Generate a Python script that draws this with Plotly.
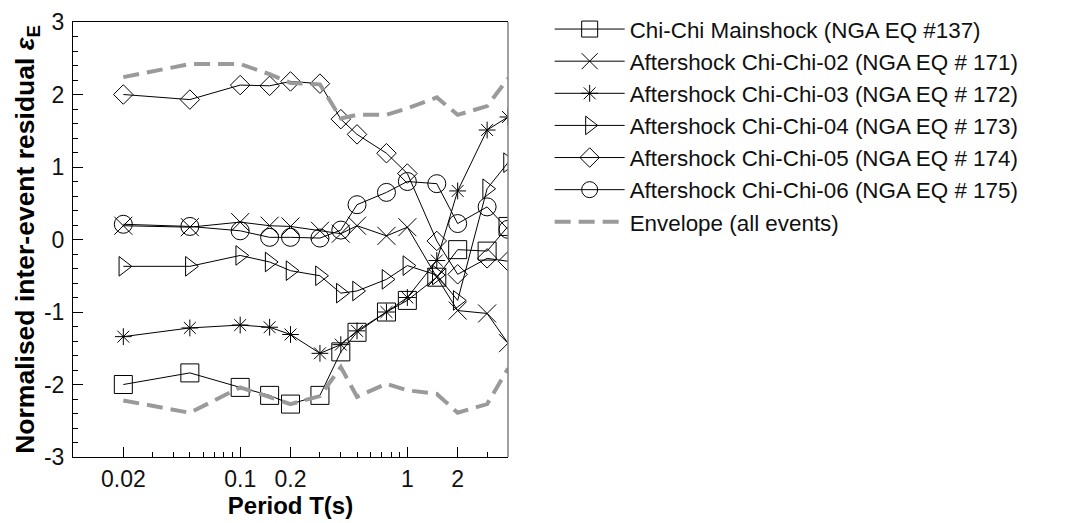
import math
import plotly.graph_objects as go

# ---- data ----
periods = [0.02, 0.05, 0.1, 0.15, 0.2, 0.3, 0.4, 0.5, 0.75, 1.0, 1.5, 2.0, 3.0, 4.0]

mainshock_137 = [-2.00, -1.84, -2.04, -2.15, -2.27, -2.15, -1.55, -1.28, -1.00, -0.84, -0.52, -0.14, -0.16, 0.18]
chichi02_171 = [0.19, 0.17, 0.24, 0.19, 0.18, 0.12, 0.08, 0.19, 0.05, 0.17, -0.52, -0.98, -1.02, -1.43]
chichi03_172 = [-1.34, -1.22, -1.18, -1.21, -1.31, -1.57, -1.45, -1.26, -1.00, -0.80, -0.29, 0.67, 1.51, 1.69]
chichi04_173 = [-0.37, -0.37, -0.22, -0.31, -0.43, -0.50, -0.74, -0.71, -0.55, -0.36, -0.49, -0.84, 0.70, 1.06]
chichi05_174 = [2.00, 1.93, 2.13, 2.12, 2.18, 2.15, 1.66, 1.45, 1.19, 0.91, -0.02, -0.48, -0.26, -0.30]
chichi06_175 = [0.21, 0.18, 0.12, 0.03, 0.03, 0.02, 0.13, 0.48, 0.65, 0.80, 0.77, 0.22, 0.45, 0.14]

envelope_upper = [2.24, 2.42, 2.42, 2.28, 2.16, 2.14, 1.67, 1.72, 1.72, 1.81, 1.96, 1.72, 1.84, 2.22]
envelope_lower = [-2.22, -2.39, -2.04, -2.17, -2.27, -2.16, -1.76, -2.17, -1.99, -2.08, -2.13, -2.39, -2.27, -1.78]

series_names = [
    "Chi-Chi Mainshock (NGA EQ #137)",
    "Aftershock Chi-Chi-02 (NGA EQ # 171)",
    "Aftershock Chi-Chi-03 (NGA EQ # 172)",
    "Aftershock Chi-Chi-04 (NGA EQ # 173)",
    "Aftershock Chi-Chi-05 (NGA EQ # 174)",
    "Aftershock Chi-Chi-06 (NGA EQ # 175)",
]
envelope_name = "Envelope (all events)"

x_tick_vals = [0.02, 0.1, 0.2, 1, 2]
x_tick_text = ["0.02", "0.1", "0.2", "1", "2"]
x_minor_vals = [0.03, 0.04, 0.05, 0.06, 0.07, 0.08, 0.09,
                0.3, 0.4, 0.5, 0.6, 0.7, 0.8, 0.9, 3, 4]
y_tick_vals = [-3, -2, -1, 0, 1, 2, 3]
y_tick_text = ["-3", "-2", "-1", "0", "1", "2", "3"]

# ---- styling ----
FONT = "Liberation Sans, Arial, Helvetica, sans-serif"
series_values = [mainshock_137, chichi02_171, chichi03_172, chichi04_173, chichi05_174, chichi06_175]
symbols = ["square-open", "x-thin-open", "asterisk-open", "triangle-right-open", "diamond-open", "circle-open"]
sizes = [18, 18, 14, 17, 15, 18]

fig = go.Figure()
for name, vals, sym, sz in zip(series_names, series_values, symbols, sizes):
    fig.add_trace(go.Scatter(
        x=periods, y=vals, name=name, mode="lines+markers",
        line=dict(color="black", width=1),
        marker=dict(symbol=sym, size=sz, color="black", line=dict(color="black", width=1)),
    ))

fig.add_trace(go.Scatter(
    x=periods + [None] + periods,
    y=envelope_upper + [None] + envelope_lower,
    name=envelope_name, mode="lines", connectgaps=False,
    line=dict(color="#9a9a9a", width=4, dash="16px,8px"),
))

# the page body adds an 8px offset, so the figure is 8px smaller in each direction
fig.update_layout(
    width=1060, height=515, autosize=False,
    margin=dict(l=65, r=560, t=14, b=66, autoexpand=False),
    paper_bgcolor="white", plot_bgcolor="white",
    font=dict(family=FONT, color="black", size=23),
    showlegend=True,
    legend=dict(
        xref="container", yref="container",
        x=0.511, xanchor="left", y=1.037, yanchor="top",
        font=dict(family=FONT, size=22.4, color="#111"),
        bgcolor="rgba(0,0,0,0)", borderwidth=0,
        tracegroupgap=0, itemwidth=70,
    ),
    xaxis=dict(
        type="log", range=[-2, math.log10(4)],
        tickmode="array", tickvals=x_tick_vals, ticktext=x_tick_text,
        ticks="inside", ticklen=10, tickwidth=1, tickcolor="black",
        minor=dict(tickmode="array", tickvals=x_minor_vals, ticks="inside",
                   ticklen=5, tickwidth=1, tickcolor="black", showgrid=False),
        showline=True, linecolor="black", linewidth=1, mirror=True,
        showgrid=False, zeroline=False,
        ticklabelstandoff=1,
        tickfont=dict(size=23, color="#111"),
        title=dict(text="Period T(s)", font=dict(size=24, weight="bold"), standoff=6),
    ),
    yaxis=dict(
        range=[-3, 3],
        tickmode="array", tickvals=y_tick_vals, ticktext=y_tick_text,
        ticks="inside", ticklen=10, tickwidth=1, tickcolor="black",
        minor=dict(dtick=0.2, ticks="inside", ticklen=5, tickwidth=1,
                   tickcolor="black", showgrid=False),
        showline=True, linecolor="black", linewidth=1, mirror=False,
        showgrid=False, zeroline=False,
        ticklabelstandoff=3,
        tickfont=dict(size=23, color="#111"),
        title=dict(text="Normalised inter-event residual <i>ε</i><sub>E</sub>",
                   font=dict(size=26.5, weight="bold"), standoff=0),
    ),
    shapes=[dict(type="line", xref="paper", yref="paper", x0=1, x1=1, y0=0, y1=1,
                 line=dict(color="#808080", width=1.5))],
)

fig.write_html("out.html")
